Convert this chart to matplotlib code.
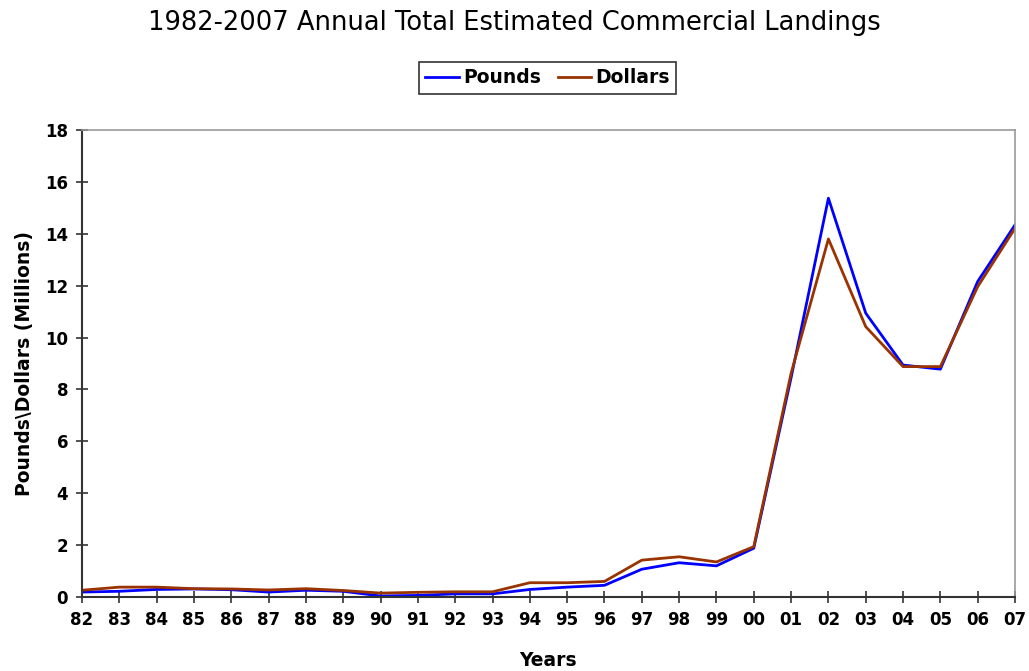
import matplotlib
matplotlib.use("Agg")
import matplotlib.pyplot as plt

years = ["82", "83", "84", "85", "86", "87", "88", "89", "90", "91", "92", "93", "94",
         "95", "96", "97", "98", "99", "00", "01", "02", "03", "04", "05", "06", "07"]
pounds = [0.19, 0.22, 0.29, 0.31, 0.28, 0.19, 0.26, 0.22, 0.04, 0.06, 0.12, 0.12, 0.29,
          0.38, 0.45, 1.07, 1.32, 1.2, 1.88, 8.45, 15.37, 10.94, 8.94, 8.78, 12.16, 14.34]
dollars = [0.26, 0.38, 0.38, 0.32, 0.31, 0.27, 0.32, 0.25, 0.15, 0.18, 0.2, 0.2, 0.55,
           0.55, 0.6, 1.42, 1.55, 1.35, 1.94, 8.62, 13.8, 10.42, 8.88, 8.88, 11.96, 14.21]

fig = plt.figure(figsize=(10.29, 6.71), dpi=100)
ax = fig.add_axes([0.0797, 0.1103, 0.9067, 0.696])
x = list(range(len(years)))
ax.plot(x, pounds, color="#0000FF", lw=2.0, label="Pounds")
ax.plot(x, dollars, color="#993300", lw=2.0, label="Dollars")

ax.set_xlim(0, len(years) - 1)
ax.set_ylim(0, 18)
ax.set_xticks(x)
ax.set_xticklabels(years, fontsize=12, fontweight="bold")
ax.set_yticks(range(0, 19, 2))
ax.set_yticklabels([str(v) for v in range(0, 19, 2)], fontsize=12, fontweight="bold")
ax.tick_params(direction="inout", length=8, width=1.2, color="#333333", pad=6)
for s in ["left", "bottom"]:
    ax.spines[s].set_color("#333333")
    ax.spines[s].set_linewidth(1.5)
for s in ["top", "right"]:
    ax.spines[s].set_color("#999999")
    ax.spines[s].set_linewidth(1.2)

ax.set_xlabel("Years", fontsize=13.5, fontweight="bold", labelpad=16)
ax.set_ylabel("Pounds\\Dollars (Millions)", fontsize=13.5, fontweight="bold", labelpad=8)
fig.suptitle("1982-2007 Annual Total Estimated Commercial Landings", fontsize=18.5, y=0.985)

leg = fig.legend(loc="center", bbox_to_anchor=(0.532, 0.884), ncol=2, frameon=True,
                 fancybox=False, edgecolor="black", prop={"weight": "bold", "size": 13.5},
                 handlelength=1.8, handletextpad=0.2, columnspacing=0.9,
                 borderpad=0.35)
leg.get_frame().set_linewidth(1.2)

fig.savefig("out.png", dpi=100)
